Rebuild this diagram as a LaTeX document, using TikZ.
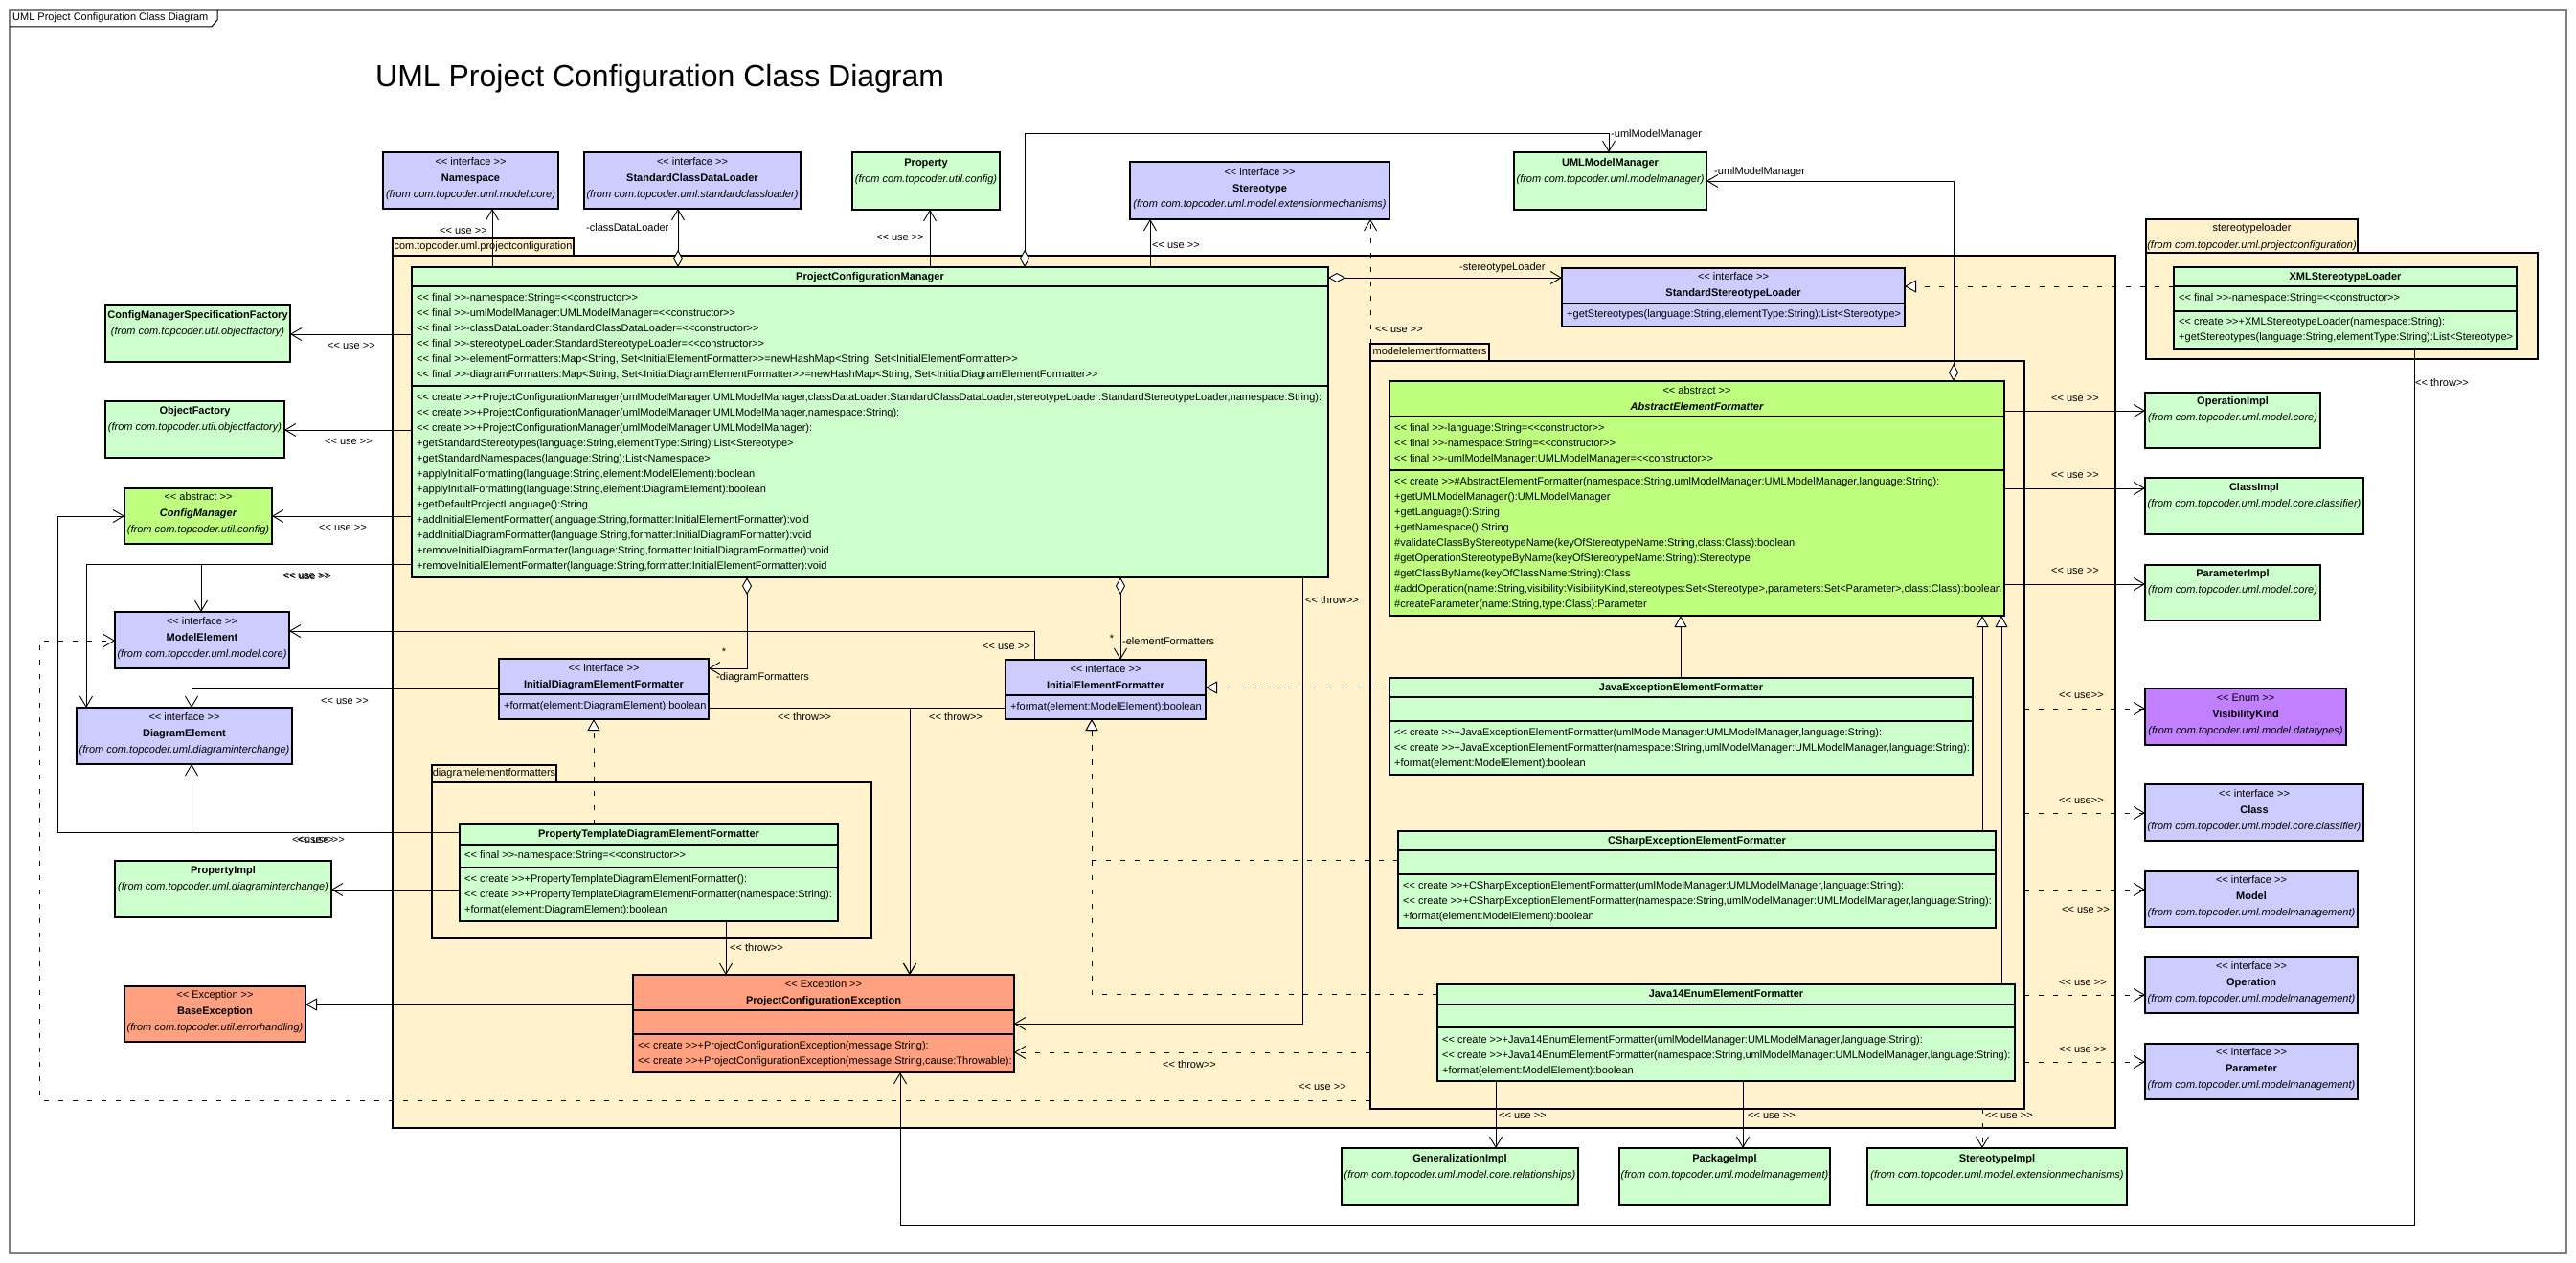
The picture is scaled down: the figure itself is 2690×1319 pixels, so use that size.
\documentclass[tikz,border=0pt]{standalone}
\usepackage{fontspec}
\newfontfamily\lsans{Liberation Sans}
\usetikzlibrary{arrows.meta}
\definecolor{cgreen}{HTML}{CCFFCC}
\definecolor{cblue}{HTML}{CCCCFF}
\definecolor{clime}{HTML}{BFFF80}
\definecolor{csalmon}{HTML}{FFA080}
\definecolor{cpkg}{HTML}{FFF2CC}
\definecolor{cenum}{HTML}{C080FF}
\definecolor{cframe}{HTML}{808080}
\tikzset{
 box/.style={draw=black,line width=1.3pt,inner sep=0pt,outer sep=0pt,anchor=north west},
 gbox/.style={box,fill=cgreen}, bbox/.style={box,fill=cblue}, lbox/.style={box,fill=clime},
 sbox/.style={box,fill=csalmon}, ebox/.style={box,fill=cenum}, pkg/.style={box,fill=cpkg},
 sepl/.style={line width=1.3pt},
 txt/.style={font=\lsans\fontsize{11}{13}\selectfont,inner sep=0pt,text height=8pt,text depth=2.5pt},
 conn/.style={line width=0.9pt},
 dep/.style={conn,-{Straight Barb[length=11pt,width=13pt]}},
 ddep/.style={dep,dash pattern=on 5pt off 10pt},
 gen/.style={conn,-{Triangle[length=12pt,width=13pt,fill=white]}},
 real/.style={gen,dash pattern=on 5pt off 10pt},
 agg/.style={conn,{Diamond[length=18pt,width=10pt,fill=white]}-{Straight Barb[length=11pt,width=13pt]}},
}
\newcounter{nn}
\newcommand\Tx[3][]{\stepcounter{nn}\node[txt,#1] (n\arabic{nn}) at (#2) {#3};}
\newcommand\Lt[3]{\Tx[anchor=west]{#1,#2}{#3}}
\newcommand\Bx[6]{\pgfmathsetmacro\bw{#5-#3}\pgfmathsetmacro\bh{#6-#4}%
 \node[#1,minimum width=\bw pt,minimum height=\bh pt] (#2) at (#3,#4) {};}
\newcommand\Sep[2]{\draw[sepl] (#1.west |- 0,#2) -- (#1.east |- 0,#2);}
\begin{document}
\begin{tikzpicture}[x=1pt,y=-1pt]
\useasboundingbox (0,0) rectangle (2690,1319);
\fill[white] (0,0) rectangle (2690,1319);
% frame
\draw[cframe,line width=1.5pt] (10,10) rectangle (2680,1309);
\draw[line width=1pt] (10,28) -- (221,28) -- (227,21) -- (227,10);
\Lt{13}{19}{UML Project Configuration Class Diagram}
\node[font=\lsans\fontsize{32}{38}\selectfont,anchor=west,inner sep=0pt] (title) at (392,82) {UML Project Configuration Class Diagram};
% packages
\Bx{pkg}{p1tab}{410}{249}{599}{267}
\Bx{pkg}{p1}{410}{267}{2209}{1178}
\Tx{p1tab.center}{com.topcoder.uml.projectconfiguration}
\Bx{pkg}{p2tab}{2241}{229}{2462}{264}
\Bx{pkg}{p2}{2241}{264}{2650}{375}
\Tx{p2tab.center |- 0,239}{stereotypeloader}
\Tx{p2tab.center |- 0,257}{\itshape (from com.topcoder.uml.projectconfiguration)}
\Bx{pkg}{p3tab}{1431}{359}{1555}{377}
\Bx{pkg}{p3}{1431}{377}{2114}{1158}
\Tx{p3tab.center}{modelelementformatters}
\Bx{pkg}{p4tab}{451}{799}{581}{817}
\Bx{pkg}{p4}{451}{817}{910}{980}
\Tx{p4tab.center}{diagramelementformatters}
% top row
\Bx{bbox}{ns}{400}{159}{583}{218}
\Tx{ns.center |- 0,170}{<< interface >>}
\Tx{ns.center |- 0,187}{\bfseries Namespace}
\Tx{ns.center |- 0,204}{\itshape (from com.topcoder.uml.model.core)}
\Bx{bbox}{scdl}{610}{159}{836}{218}
\Tx{scdl.center |- 0,170}{<< interface >>}
\Tx{scdl.center |- 0,187}{\bfseries StandardClassDataLoader}
\Tx{scdl.center |- 0,204}{\itshape (from com.topcoder.uml.standardclassloader)}
\Bx{gbox}{prop}{890}{159}{1044}{219}
\Tx{prop.center |- 0,171}{\bfseries Property}
\Tx{prop.center |- 0,188}{\itshape (from com.topcoder.util.config)}
\Bx{bbox}{st}{1180}{169}{1451}{229}
\Tx{st.center |- 0,181}{<< interface >>}
\Tx{st.center |- 0,198}{\bfseries Stereotype}
\Tx{st.center |- 0,214}{\itshape (from com.topcoder.uml.model.extensionmechanisms)}
\Bx{gbox}{umm}{1581}{159}{1782}{219}
\Tx{umm.center |- 0,171}{\bfseries UMLModelManager}
\Tx{umm.center |- 0,188}{\itshape (from com.topcoder.uml.modelmanager)}
% PCM
\Bx{gbox}{pcm}{430}{279}{1387}{603}
\Sep{pcm}{299}\Sep{pcm}{403}
\Tx{pcm.center |- 0,290}{\bfseries ProjectConfigurationManager}
\Lt{435}{312}{<< final >>-namespace:String=<<constructor>>}
\Lt{435}{328}{<< final >>-umlModelManager:UMLModelManager=<<constructor>>}
\Lt{435}{344}{<< final >>-classDataLoader:StandardClassDataLoader=<<constructor>>}
\Lt{435}{360}{<< final >>-stereotypeLoader:StandardStereotypeLoader=<<constructor>>}
\Lt{435}{376}{<< final >>-elementFormatters:Map<String, Set<InitialElementFormatter>>=newHashMap<String, Set<InitialElementFormatter>>}
\Lt{435}{392}{<< final >>-diagramFormatters:Map<String, Set<InitialDiagramElementFormatter>>=newHashMap<String, Set<InitialDiagramElementFormatter>>}
\Lt{435}{416}{<< create >>+ProjectConfigurationManager(umlModelManager:UMLModelManager,classDataLoader:StandardClassDataLoader,stereotypeLoader:StandardStereotypeLoader,namespace:String):}
\Lt{435}{432}{<< create >>+ProjectConfigurationManager(umlModelManager:UMLModelManager,namespace:String):}
\Lt{435}{448}{<< create >>+ProjectConfigurationManager(umlModelManager:UMLModelManager):}
\Lt{435}{464}{+getStandardStereotypes(language:String,elementType:String):List<Stereotype>}
\Lt{435}{480}{+getStandardNamespaces(language:String):List<Namespace>}
\Lt{435}{496}{+applyInitialFormatting(language:String,element:ModelElement):boolean}
\Lt{435}{512}{+applyInitialFormatting(language:String,element:DiagramElement):boolean}
\Lt{435}{528}{+getDefaultProjectLanguage():String}
\Lt{435}{544}{+addInitialElementFormatter(language:String,formatter:InitialElementFormatter):void}
\Lt{435}{560}{+addInitialDiagramFormatter(language:String,formatter:InitialDiagramFormatter):void}
\Lt{435}{576}{+removeInitialDiagramFormatter(language:String,formatter:InitialDiagramFormatter):void}
\Lt{435}{592}{+removeInitialElementFormatter(language:String,formatter:InitialElementFormatter):void}
% SSL & XML
\Bx{bbox}{ssl}{1631}{280}{1989}{341}
\Sep{ssl}{317}
\Tx{ssl.center |- 0,290}{<< interface >>}
\Tx{ssl.center |- 0,307}{\bfseries StandardStereotypeLoader}
\Lt{1636}{329}{+getStereotypes(language:String,elementType:String):List<Stereotype>}
\Bx{gbox}{xml}{2270}{279}{2628}{364}
\Sep{xml}{299}\Sep{xml}{325}
\Tx{xml.center |- 0,290}{\bfseries XMLStereotypeLoader}
\Lt{2275}{312}{<< final >>-namespace:String=<<constructor>>}
\Lt{2275}{337}{<< create >>+XMLStereotypeLoader(namespace:String):}
\Lt{2275}{353}{+getStereotypes(language:String,elementType:String):List<Stereotype>}
% left column
\Bx{gbox}{cmsf}{110}{319}{303}{378}
\Tx{cmsf.center |- 0,330}{\bfseries ConfigManagerSpecificationFactory}
\Tx{cmsf.center |- 0,347}{\itshape (from com.topcoder.util.objectfactory)}
\Bx{gbox}{of}{110}{419}{297}{478}
\Tx{of.center |- 0,430}{\bfseries ObjectFactory}
\Tx{of.center |- 0,447}{\itshape (from com.topcoder.util.objectfactory)}
\Bx{lbox}{cm}{130}{510}{284}{568}
\Tx{cm.center |- 0,520}{<< abstract >>}
\Tx{cm.center |- 0,537}{\bfseries\itshape ConfigManager}
\Tx{cm.center |- 0,554}{\itshape (from com.topcoder.util.config)}
\Bx{bbox}{me}{120}{639}{302}{698}
\Tx{me.center |- 0,650}{<< interface >>}
\Tx{me.center |- 0,667}{\bfseries ModelElement}
\Tx{me.center |- 0,684}{\itshape (from com.topcoder.uml.model.core)}
\Bx{bbox}{de}{80}{739}{305}{798}
\Tx{de.center |- 0,750}{<< interface >>}
\Tx{de.center |- 0,767}{\bfseries DiagramElement}
\Tx{de.center |- 0,784}{\itshape (from com.topcoder.uml.diagraminterchange)}
\Bx{gbox}{pi}{120}{899}{346}{958}
\Tx{pi.center |- 0,910}{\bfseries PropertyImpl}
\Tx{pi.center |- 0,927}{\itshape (from com.topcoder.uml.diagraminterchange)}
\Bx{sbox}{be}{130}{1030}{319}{1088}
\Tx{be.center |- 0,1040}{<< Exception >>}
\Tx{be.center |- 0,1057}{\bfseries BaseException}
\Tx{be.center |- 0,1074}{\itshape (from com.topcoder.util.errorhandling)}
% formatter interfaces
\Bx{bbox}{idef}{521}{688}{740}{751}
\Sep{idef}{725}
\Tx{idef.center |- 0,699}{<< interface >>}
\Tx{idef.center |- 0,716}{\bfseries InitialDiagramElementFormatter}
\Lt{526}{738}{+format(element:DiagramElement):boolean}
\Bx{bbox}{ief}{1050}{689}{1259}{751}
\Sep{ief}{726}
\Tx{ief.center |- 0,700}{<< interface >>}
\Tx{ief.center |- 0,717}{\bfseries InitialElementFormatter}
\Lt{1055}{739}{+format(element:ModelElement):boolean}
% PTDEF
\Bx{gbox}{ptdef}{480}{861}{875}{962}
\Sep{ptdef}{882}\Sep{ptdef}{906}
\Tx{ptdef.center |- 0,872}{\bfseries PropertyTemplateDiagramElementFormatter}
\Lt{485}{894}{<< final >>-namespace:String=<<constructor>>}
\Lt{485}{919}{<< create >>+PropertyTemplateDiagramElementFormatter():}
\Lt{485}{935}{<< create >>+PropertyTemplateDiagramElementFormatter(namespace:String):}
\Lt{485}{951}{+format(element:DiagramElement):boolean}
% PCE
\Bx{sbox}{pce}{661}{1018}{1059}{1120}
\Sep{pce}{1055}\Sep{pce}{1080}
\Tx{pce.center |- 0,1029}{<< Exception >>}
\Tx{pce.center |- 0,1046}{\bfseries ProjectConfigurationException}
\Lt{666}{1093}{<< create >>+ProjectConfigurationException(message:String):}
\Lt{666}{1109}{<< create >>+ProjectConfigurationException(message:String,cause:Throwable):}
% AEF
\Bx{lbox}{aef}{1451}{398}{2093}{643}
\Sep{aef}{435}\Sep{aef}{491}
\Tx{aef.center |- 0,409}{<< abstract >>}
\Tx{aef.center |- 0,426}{\bfseries\itshape AbstractElementFormatter}
\Lt{1456}{448}{<< final >>-language:String=<<constructor>>}
\Lt{1456}{464}{<< final >>-namespace:String=<<constructor>>}
\Lt{1456}{480}{<< final >>-umlModelManager:UMLModelManager=<<constructor>>}
\Lt{1456}{504}{<< create >>\#AbstractElementFormatter(namespace:String,umlModelManager:UMLModelManager,language:String):}
\Lt{1456}{520}{+getUMLModelManager():UMLModelManager}
\Lt{1456}{536}{+getLanguage():String}
\Lt{1456}{552}{+getNamespace():String}
\Lt{1456}{568}{\#validateClassByStereotypeName(keyOfStereotypeName:String,class:Class):boolean}
\Lt{1456}{584}{\#getOperationStereotypeByName(keyOfStereotypeName:String):Stereotype}
\Lt{1456}{600}{\#getClassByName(keyOfClassName:String):Class}
\Lt{1456}{616}{\#addOperation(name:String,visibility:VisibilityKind,stereotypes:Set<Stereotype>,parameters:Set<Parameter>,class:Class):boolean}
\Lt{1456}{632}{\#createParameter(name:String,type:Class):Parameter}
% JEE
\Bx{gbox}{jee}{1451}{708}{2060}{809}
\Sep{jee}{728}\Sep{jee}{753}
\Tx{jee.center |- 0,719}{\bfseries JavaExceptionElementFormatter}
\Lt{1456}{766}{<< create >>+JavaExceptionElementFormatter(umlModelManager:UMLModelManager,language:String):}
\Lt{1456}{782}{<< create >>+JavaExceptionElementFormatter(namespace:String,umlModelManager:UMLModelManager,language:String):}
\Lt{1456}{798}{+format(element:ModelElement):boolean}
% CSEE
\Bx{gbox}{csee}{1460}{868}{2084}{969}
\Sep{csee}{888}\Sep{csee}{913}
\Tx{csee.center |- 0,879}{\bfseries CSharpExceptionElementFormatter}
\Lt{1465}{926}{<< create >>+CSharpExceptionElementFormatter(umlModelManager:UMLModelManager,language:String):}
\Lt{1465}{942}{<< create >>+CSharpExceptionElementFormatter(namespace:String,umlModelManager:UMLModelManager,language:String):}
\Lt{1465}{958}{+format(element:ModelElement):boolean}
% J14
\Bx{gbox}{j14}{1501}{1028}{2104}{1129}
\Sep{j14}{1049}\Sep{j14}{1073}
\Tx{j14.center |- 0,1039}{\bfseries Java14EnumElementFormatter}
\Lt{1506}{1087}{<< create >>+Java14EnumElementFormatter(umlModelManager:UMLModelManager,language:String):}
\Lt{1506}{1103}{<< create >>+Java14EnumElementFormatter(namespace:String,umlModelManager:UMLModelManager,language:String):}
\Lt{1506}{1119}{+format(element:ModelElement):boolean}
% right column
\Bx{gbox}{oi}{2240}{410}{2423}{468}
\Tx{oi.center |- 0,420}{\bfseries OperationImpl}
\Tx{oi.center |- 0,437}{\itshape (from com.topcoder.uml.model.core)}
\Bx{gbox}{ci}{2240}{499}{2468}{558}
\Tx{ci.center |- 0,510}{\bfseries ClassImpl}
\Tx{ci.center |- 0,527}{\itshape (from com.topcoder.uml.model.core.classifier)}
\Bx{gbox}{pai}{2240}{590}{2423}{648}
\Tx{pai.center |- 0,600}{\bfseries ParameterImpl}
\Tx{pai.center |- 0,617}{\itshape (from com.topcoder.uml.model.core)}
\Bx{ebox}{vk}{2240}{719}{2450}{778}
\Tx{vk.center |- 0,730}{<< Enum >>}
\Tx{vk.center |- 0,747}{\bfseries VisibilityKind}
\Tx{vk.center |- 0,764}{\itshape (from com.topcoder.uml.model.datatypes)}
\Bx{bbox}{cl}{2240}{819}{2468}{878}
\Tx{cl.center |- 0,830}{<< interface >>}
\Tx{cl.center |- 0,847}{\bfseries Class}
\Tx{cl.center |- 0,864}{\itshape (from com.topcoder.uml.model.core.classifier)}
\Bx{bbox}{mo}{2240}{910}{2462}{968}
\Tx{mo.center |- 0,920}{<< interface >>}
\Tx{mo.center |- 0,937}{\bfseries Model}
\Tx{mo.center |- 0,954}{\itshape (from com.topcoder.uml.modelmanagement)}
\Bx{bbox}{op}{2240}{999}{2462}{1058}
\Tx{op.center |- 0,1010}{<< interface >>}
\Tx{op.center |- 0,1027}{\bfseries Operation}
\Tx{op.center |- 0,1044}{\itshape (from com.topcoder.uml.modelmanagement)}
\Bx{bbox}{pa}{2240}{1090}{2462}{1148}
\Tx{pa.center |- 0,1100}{<< interface >>}
\Tx{pa.center |- 0,1117}{\bfseries Parameter}
\Tx{pa.center |- 0,1134}{\itshape (from com.topcoder.uml.modelmanagement)}
% bottom
\Bx{gbox}{gi}{1401}{1199}{1648}{1258}
\Tx{gi.center |- 0,1211}{\bfseries GeneralizationImpl}
\Tx{gi.center |- 0,1228}{\itshape (from com.topcoder.uml.model.core.relationships)}
\Bx{gbox}{pk}{1691}{1199}{1911}{1258}
\Tx{pk.center |- 0,1211}{\bfseries PackageImpl}
\Tx{pk.center |- 0,1228}{\itshape (from com.topcoder.uml.modelmanagement)}
\Bx{gbox}{sti}{1950}{1199}{2221}{1258}
\Tx{sti.center |- 0,1211}{\bfseries StereotypeImpl}
\Tx{sti.center |- 0,1228}{\itshape (from com.topcoder.uml.model.extensionmechanisms)}
% ---------- connectors
\draw[dep] (pcm.north -| 514,0) -- (ns.south -| 514,0);
\Lt{459}{242}{<< use >>}
\draw[agg] (pcm.north -| 708,0) -- (scdl.south -| 708,0);
\Lt{612}{239}{-classDataLoader}
\draw[dep] (pcm.north -| 971,0) -- (prop.south -| 971,0);
\Lt{915}{249}{<< use >>}
\draw[agg] (pcm.north -| 1070,0) -- (1070,139) -- (1680,139) -- (umm.north -| 1680,0);
\Lt{1682}{141}{-umlModelManager}
\draw[dep] (pcm.north -| 1201,0) -- (st.south -| 1201,0);
\Lt{1203}{257}{<< use >>}
\draw[agg] (pcm.east |- 0,290) -- (ssl.west |- 0,290);
\Lt{1524}{280}{-stereotypeLoader}
\draw[real] (xml.west |- 0,299) -- (ssl.east |- 0,299);
\draw[agg] (aef.north -| 2040,0) -- (2040,189) -- (umm.east |- 0,189);
\Lt{1790}{180}{-umlModelManager}
\draw[ddep] (p3tab.north west) -- (st.south -| p3tab.north west);
\Lt{1436}{345}{<< use >>}
\draw[dep] (pcm.west |- 0,349) -- (cmsf.east |- 0,349);
\Lt{342}{362}{<< use >>}
\draw[dep] (pcm.west |- 0,449) -- (of.east |- 0,449);
\Lt{339}{462}{<< use >>}
\draw[dep] (pcm.west |- 0,539) -- (cm.east |- 0,539);
\Lt{333}{552}{<< use >>}
\draw[dep] (pcm.west |- 0,589) -- (210,589) -- (me.north -| 210,0);
\draw[dep] (pcm.west |- 0,589) -- (90,589) -- (de.north -| 90,0);
\Lt{295}{602}{<< use >>}
\Lt{296}{603}{<< use >>}
\draw[dep] (ief.north -| 1080,0) -- (1080,659) -- (me.east |- 0,659);
\Lt{1026}{676}{<< use >>}
\draw[dep] (idef.west |- 0,719) -- (200,719) -- (de.north -| 200,0);
\Lt{335}{733}{<< use >>}
\draw[dep] (ptdef.west |- 0,869) -- (60,869) -- (60,539) -- (cm.west |- 0,539);
\draw[dep] (ptdef.west |- 0,869) -- (200,869) -- (de.south -| 200,0);
\Lt{305}{878}{<<use>>}
\Lt{310}{878}{<< use >>}
\draw[dep] (ptdef.west |- 0,929) -- (pi.east |- 0,929);
\draw[gen] (pce.west |- 0,1049) -- (be.east |- 0,1049);
\draw[ddep] (p3.west |- 0,1149) -- (41,1149) -- (41,669) -- (me.west |- 0,669);
\Lt{1356}{1136}{<< use >>}
\draw[ddep] (p3.west |- 0,1099) -- (pce.east |- 0,1099);
\Lt{1214}{1113}{<< throw>>}
\draw[dep] (pcm.south -| 1360,0) -- (1360,1069) -- (pce.east |- 0,1069);
\Lt{1363}{628}{<< throw>>}
\draw[dep] (idef.east |- 0,739) -- (950,739) -- (pce.north -| 950,0);
\Lt{812}{750}{<< throw>>}
\draw[dep] (ief.west |- 0,739) -- (950,739) -- (pce.north -| 950,0);
\Lt{970}{750}{<< throw>>}
\draw[dep] (ptdef.south -| 758,0) -- (pce.north -| 758,0);
\Lt{762}{991}{<< throw>>}
\draw[dep] (xml.south -| 2521,0) -- (2521,1279) -- (940,1279) -- (pce.south -| 940,0);
\Lt{2522}{401}{<< throw>>}
\draw[agg] (pcm.south -| 780,0) -- (780,698) -- (idef.east |- 0,698);
\Tx{756,682}{*}
\Lt{748}{708}{-diagramFormatters}
\draw[agg] (pcm.south -| 1170,0) -- (ief.north -| 1170,0);
\Tx{1161,668}{*}
\Lt{1172}{671}{-elementFormatters}
\draw[real] (ptdef.north -| 620,0) -- (idef.south -| 620,0);
\draw[real] (jee.west |- 0,718) -- (ief.east |- 0,718);
\draw[real] (csee.west |- 0,898) -- (1140,898) -- (ief.south -| 1140,0);
\draw[real] (j14.west |- 0,1038) -- (1140,1038) -- (ief.south -| 1140,0);
\draw[gen] (jee.north -| 1755,0) -- (aef.south -| 1755,0);
\draw[gen] (csee.north -| 2070,0) -- (aef.south -| 2070,0);
\draw[gen] (j14.north -| 2090,0) -- (aef.south -| 2090,0);
\draw[dep] (aef.east |- 0,429) -- (oi.west |- 0,429);
\Lt{2142}{417}{<< use >>}
\draw[dep] (aef.east |- 0,510) -- (ci.west |- 0,510);
\Lt{2142}{497}{<< use >>}
\draw[dep] (aef.east |- 0,610) -- (pai.west |- 0,610);
\Lt{2142}{597}{<< use >>}
\draw[ddep] (p3.east |- 0,740) -- (vk.west |- 0,740);
\Lt{2150}{727}{<< use>>}
\draw[ddep] (p3.east |- 0,849) -- (cl.west |- 0,849);
\Lt{2150}{837}{<< use>>}
\draw[ddep] (p3.east |- 0,929) -- (mo.west |- 0,929);
\Lt{2153}{951}{<< use >>}
\draw[ddep] (p3.east |- 0,1039) -- (op.west |- 0,1039);
\Lt{2150}{1027}{<< use >>}
\draw[ddep] (p3.east |- 0,1109) -- (pa.west |- 0,1109);
\Lt{2150}{1097}{<< use >>}
\draw[dep] (j14.south -| 1562,0) -- (gi.north -| 1562,0);
\Lt{1565}{1166}{<< use >>}
\draw[dep] (j14.south -| 1820,0) -- (pk.north -| 1820,0);
\Lt{1825}{1166}{<< use >>}
\draw[ddep] (p3.south -| 2070,0) -- (sti.north -| 2070,0);
\Lt{2073}{1166}{<< use >>}
\end{tikzpicture}
\end{document}
